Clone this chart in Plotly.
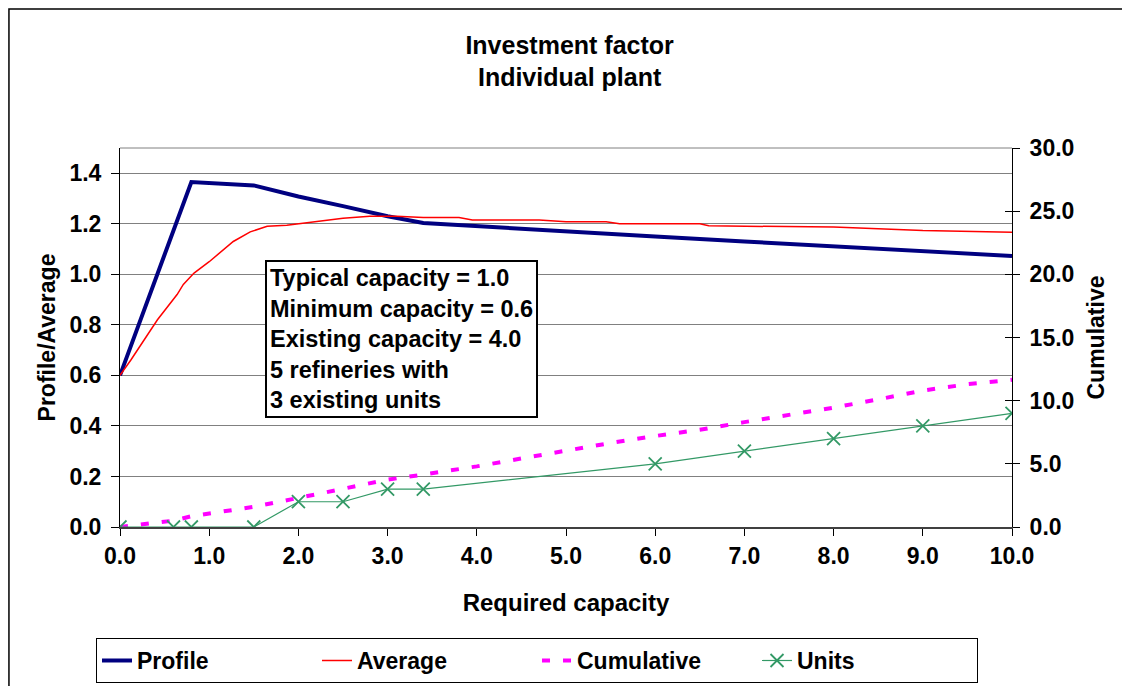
import plotly.graph_objects as go

# ---------------- data ----------------
x_profile = [0.0, 0.8, 1.5, 2.0, 2.5, 3.0, 3.4, 4.0, 5.0, 6.0, 7.0, 8.0, 9.0, 10.0]
profile = [0.60, 1.365, 1.352, 1.308, 1.270, 1.230, 1.203, 1.190, 1.170, 1.150, 1.130, 1.110, 1.090, 1.073]

x_average = [0.0, 0.12, 0.42, 0.60, 0.64, 0.71, 0.83, 1.00, 1.27, 1.46, 1.65, 1.87, 2.10, 2.50,
             2.80, 3.10, 3.40, 3.80, 3.95, 4.70, 5.00, 5.45, 5.60, 6.50, 6.60, 8.00, 9.00, 10.0]
average = [0.600, 0.660, 0.820, 0.900, 0.920, 0.960, 1.005, 1.050, 1.130, 1.168, 1.190, 1.194, 1.205, 1.222,
           1.230, 1.230, 1.225, 1.225, 1.215, 1.215, 1.208, 1.208, 1.200, 1.200, 1.192, 1.187, 1.173, 1.167]

x_cumulative = [0.0, 0.6, 0.8, 1.5, 2.0, 2.5, 3.0, 3.4, 4.0, 4.6, 5.0, 5.5, 6.0, 6.5, 7.0, 7.5, 8.0, 8.5, 9.0, 9.5, 10.0]
cumulative = [0.0, 0.5, 0.85, 1.6, 2.3, 3.0, 3.75, 4.15, 4.8, 5.55, 6.05, 6.65, 7.2, 7.7, 8.3, 8.85, 9.45, 10.1, 10.8, 11.3, 11.65]

x_units = [0.0, 0.6, 0.8, 1.5, 2.0, 2.5, 3.0, 3.4, 6.0, 7.0, 8.0, 9.0, 10.0]
units = [0, 0, 0, 0, 2, 2, 3, 3, 5, 6, 7, 8, 9]

x_ticks = [0, 1, 2, 3, 4, 5, 6, 7, 8, 9, 10]
title_lines = ["Investment factor", "Individual plant"]
info_lines = ["Typical capacity = 1.0", "Minimum capacity = 0.6", "Existing capacity = 4.0",
              "5 refineries with", "3 existing units"]

FONT = "Liberation Sans, Arial, sans-serif"
fs = 23

fig = go.Figure()
fig.add_trace(go.Scatter(x=x_profile, y=profile, name="Profile", mode="lines",
                         line=dict(color="#000080", width=4)))
fig.add_trace(go.Scatter(x=x_average, y=average, name="Average", mode="lines",
                         line=dict(color="#FF0000", width=1.5)))
fig.add_trace(go.Scatter(x=x_cumulative, y=cumulative, name="Cumulative", mode="lines", yaxis="y2",
                         line=dict(color="#FF00FF", width=4, dash="8px,13px")))
fig.add_trace(go.Scatter(x=x_units, y=units, name="Units", mode="lines+markers", yaxis="y2",
                         line=dict(color="#339966", width=1.2),
                         marker=dict(symbol="x-thin", size=13, line=dict(color="#339966", width=1.8))))

fig.update_layout(
    width=1130, height=686,
    margin=dict(l=112, r=126, t=140, b=167, autoexpand=False),
    paper_bgcolor="white", plot_bgcolor="white",
    font=dict(family=FONT, size=fs, color="black", weight="bold"),
    title=dict(text="<br>".join(title_lines), x=0.497, xanchor="center", y=0.933, yanchor="top",
               font=dict(family=FONT, size=25, color="black", weight="bold")),
    showlegend=True,
    legend=dict(orientation="h", x=0.4675, xanchor="center", y=-0.293, yanchor="top",
                bordercolor="black", borderwidth=1, bgcolor="white",
                entrywidth=175, entrywidthmode="pixels", itemwidth=30,
                font=dict(family=FONT, size=fs, color="black", weight="bold")),
    xaxis=dict(range=[0, 10], tickvals=x_ticks, tickformat=".1f", automargin=False,
               showgrid=False, zeroline=False,
               showline=True, linecolor="#404040", linewidth=2,
               ticks="outside", ticklen=7, tickcolor="black",
               tickfont=dict(family=FONT, size=fs, weight="bold"),
               title=dict(text="Required capacity", standoff=27,
                          font=dict(family=FONT, size=24, weight="bold"))),
    yaxis=dict(range=[0, 1.5], dtick=0.2, tick0=0, tickformat=".1f", automargin=False,
               showgrid=True, gridcolor="#808080", gridwidth=1, zeroline=False,
               showline=True, linecolor="black", linewidth=1,
               ticks="outside", ticklen=8, tickcolor="black", ticklabelstandoff=5,
               tickfont=dict(family=FONT, size=fs, weight="bold"),
               title=dict(text="Profile/Average", standoff=7,
                          font=dict(family=FONT, size=fs, weight="bold"))),
    yaxis2=dict(range=[0, 30], dtick=5, tick0=0, tickformat=".1f", overlaying="y", side="right",
                automargin=False, showgrid=False, zeroline=False,
                showline=True, linecolor="black", linewidth=1,
                ticks="outside", ticklen=7, tickcolor="black", ticklabelstandoff=5,
                tickfont=dict(family=FONT, size=fs, weight="bold"),
                title=dict(text="Cumulative", standoff=14,
                           font=dict(family=FONT, size=fs, weight="bold"))),
    yaxis3=dict(range=[0, 30], dtick=5, overlaying="y", side="right", automargin=False,
                showgrid=False, zeroline=False, showline=False,
                ticks="inside", ticklen=7, tickcolor="black", showticklabels=False),
)

# invisible trace so yaxis3 (inner tick marks of the right axis) renders
fig.add_trace(go.Scatter(x=[None], y=[None], yaxis="y3", showlegend=False, hoverinfo="skip"))

# top border of plot area
fig.add_shape(type="line", xref="x domain", yref="y domain", x0=0, x1=1, y0=1, y1=1,
              line=dict(color="#808080", width=1))
# outer chart border
fig.add_shape(type="rect", xref="paper", yref="paper", x0=-0.1245, x1=1.1288, y0=-0.45, y1=1.367,
              line=dict(color="black", width=1.5), fillcolor="rgba(0,0,0,0)", layer="below")

fig.add_annotation(xref="x", yref="y", x=1.62, y=1.057, xanchor="left", yanchor="top",
                   text="<br>".join(info_lines), align="left", showarrow=False,
                   font=dict(family=FONT, size=23.5, color="black", weight="bold"),
                   bordercolor="black", borderwidth=2, borderpad=3, bgcolor="white")

fig.write_html("out.html")
